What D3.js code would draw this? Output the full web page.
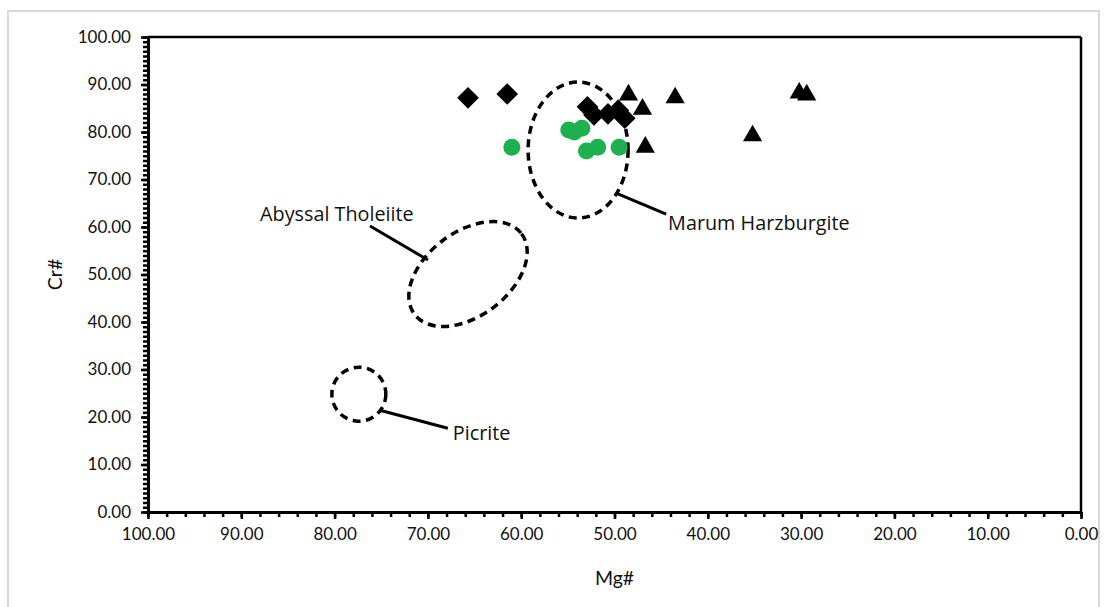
<!DOCTYPE html>
<html>
<head>
<meta charset="utf-8">
<style>
body { margin: 0; background: #fff; font-family: Lato, 'Open Sans', sans-serif; }
.axis .domain { stroke: #000; stroke-width: 3px; }
.axis .tick line { stroke: #000; stroke-width: 2.5px; }
.axis text { font-family: Lato, sans-serif; font-size: 17px; fill: #111; }
</style>
</head>
<body>
<svg width="1107" height="607"></svg>
<script src="https://d3js.org/d3.v7.min.js"></script>
<script>
// Mg#, Cr#
var diamondMg = [65.7, 61.5, 52.9, 52.2, 50.7, 49.6, 48.9];
var diamondCr = [87.2, 88.0, 85.3, 83.6, 83.8, 84.6, 82.9];
var triangleMg = [48.5, 47.0, 46.7, 43.5, 35.2, 30.2, 29.4];
var triangleCr = [87.8, 84.8, 76.8, 87.2, 79.2, 88.2, 87.8];
var circleMg = [61.0, 54.9, 54.3, 53.5, 53.0, 51.8, 49.5];
var circleCr = [76.8, 80.4, 80.0, 80.8, 76.0, 76.8, 76.8];

var majorTicks = [0, 10, 20, 30, 40, 50, 60, 70, 80, 90, 100];

// field outlines: centre in Mg#/Cr#
var regionNames = ["Marum Harzburgite", "Abyssal Tholeiite", "Picrite"];
var regionMg = [53.9, 65.7, 77.4];
var regionCr = [76.2, 50.1, 24.8];

var svg = d3.select("svg"),
    width = +svg.attr("width"),
    height = +svg.attr("height");

// outer frame
svg.append("rect")
    .attr("x", 8).attr("y", 11)
    .attr("width", 1091).attr("height", 602)
    .attr("fill", "#fff")
    .attr("stroke", "#d9d9d9")
    .attr("stroke-width", 2);

var x = d3.scaleLinear().domain([100, 0]).range([148, 1081]);
var y = d3.scaleLinear().domain([0, 100]).range([512, 37]);

// plot frame top/right
svg.append("line")
    .attr("x1", x(100)).attr("x2", x(0))
    .attr("y1", y(100)).attr("y2", y(100))
    .attr("stroke", "#000").attr("stroke-width", 2.5);
svg.append("line")
    .attr("x1", x(0)).attr("x2", x(0))
    .attr("y1", y(100)).attr("y2", y(0))
    .attr("stroke", "#000").attr("stroke-width", 2.5);

// minor ticks
svg.append("g")
    .attr("class", "axis")
    .attr("transform", "translate(" + x(100) + ",0)")
    .call(d3.axisLeft(y).tickValues(d3.range(0, 101, 1)).tickSize(5).tickFormat(""))
    .select(".domain").remove();
svg.append("g")
    .attr("class", "axis")
    .attr("transform", "translate(0," + y(0) + ")")
    .call(d3.axisBottom(x).tickValues(d3.range(0, 101, 2)).tickSize(5).tickFormat(""))
    .select(".domain").remove();

// major axes
svg.append("g")
    .attr("class", "axis")
    .attr("transform", "translate(" + x(100) + ",0)")
    .call(d3.axisLeft(y).tickValues(majorTicks).tickSize(7).tickSizeOuter(0).tickPadding(10).tickFormat(d3.format(".2f")));
svg.append("g")
    .attr("class", "axis")
    .attr("transform", "translate(0," + y(0) + ")")
    .call(d3.axisBottom(x).tickValues(majorTicks).tickSize(7).tickSizeOuter(0).tickPadding(9).tickFormat(d3.format(".2f")));

// axis titles
svg.append("text")
    .attr("transform", "translate(62," + ((y(0) + y(100)) / 2) + ") rotate(-90)")
    .attr("text-anchor", "middle")
    .attr("font-size", 19.5)
    .attr("fill", "#111")
    .text("Cr#");
svg.append("text")
    .attr("x", (x(0) + x(100)) / 2)
    .attr("y", 585)
    .attr("text-anchor", "middle")
    .attr("font-size", 19.5)
    .attr("fill", "#111")
    .text("Mg#");

// dashed field outlines
var outline = { fill: "none", stroke: "#000", "stroke-width": 3.5, "stroke-dasharray": "8,5.5" };
function dashed(sel) {
  Object.keys(outline).forEach(function(k) { sel.attr(k, outline[k]); });
  return sel;
}
dashed(svg.append("ellipse"))
    .attr("transform", "translate(" + x(regionMg[0]) + "," + y(regionCr[0]) + ")")
    .attr("rx", 50).attr("ry", 68);
dashed(svg.append("ellipse"))
    .attr("transform", "translate(" + x(regionMg[1]) + "," + y(regionCr[1]) + ") rotate(-37)")
    .attr("rx", 67).attr("ry", 42);
dashed(svg.append("ellipse"))
    .attr("transform", "translate(" + x(regionMg[2]) + "," + y(regionCr[2]) + ")")
    .attr("rx", 27).attr("ry", 27);

// leader lines + labels (offsets from the field centres, px)
var leaders = [
  {line: [38, 43, 88, 64], text: [90, 80]},
  {line: [-98, -48, -40, -14], text: [-208, -53]},
  {line: [21, 16, 89, 34], text: [94, 46]}
];
leaders.forEach(function(l, i) {
  var cx = x(regionMg[i]), cy = y(regionCr[i]);
  svg.append("line")
      .attr("x1", cx + l.line[0]).attr("y1", cy + l.line[1])
      .attr("x2", cx + l.line[2]).attr("y2", cy + l.line[3])
      .attr("stroke", "#000").attr("stroke-width", 3);
  svg.append("text")
      .attr("x", cx + l.text[0]).attr("y", cy + l.text[1])
      .attr("font-family", "'Open Sans', sans-serif")
      .attr("font-size", 19.8)
      .attr("fill", "#111")
      .text(regionNames[i]);
});

// markers
svg.append("g").selectAll("circle")
    .data(d3.zip(circleMg, circleCr))
    .enter().append("circle")
      .attr("cx", function(d) { return x(d[0]); })
      .attr("cy", function(d) { return y(d[1]); })
      .attr("r", 8.5)
      .attr("fill", "#1db04f");

svg.append("g").selectAll("path")
    .data(d3.zip(diamondMg, diamondCr))
    .enter().append("path")
      .attr("d", d3.symbol(d3.symbolSquare, 235)())
      .attr("transform", function(d) { return "translate(" + x(d[0]) + "," + y(d[1]) + ") rotate(45)"; })
      .attr("fill", "#000");

svg.append("g").selectAll("path")
    .data(d3.zip(triangleMg, triangleCr))
    .enter().append("path")
      .attr("d", d3.symbol(d3.symbolTriangle, 160)())
      .attr("transform", function(d) { return "translate(" + x(d[0]) + "," + y(d[1]) + ")"; })
      .attr("fill", "#000");
</script>
</body>
</html>
